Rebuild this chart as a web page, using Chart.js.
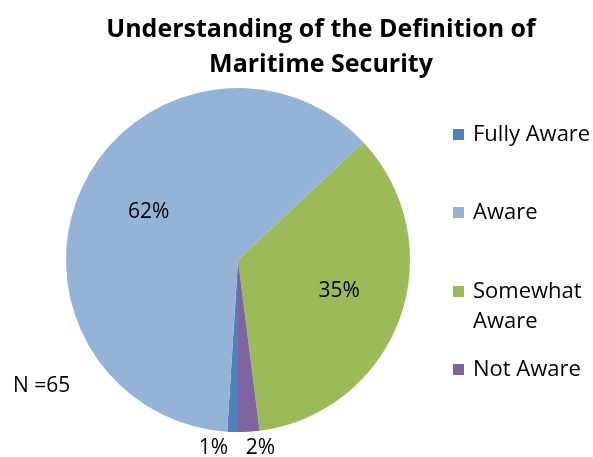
<!DOCTYPE html>
<html>
<head>
<meta charset="utf-8">
<script src="https://cdn.jsdelivr.net/npm/chart.js@4.4.1/dist/chart.umd.min.js"></script>
<style>
  html, body { margin: 0; padding: 0; background: #fff; }
  #wrap { width: 593px; height: 457px; }
</style>
</head>
<body>
<div id="wrap"><canvas id="grafico"></canvas></div>
<script>
// Datos de la encuesta
const categorias = ['Fully Aware', 'Aware', 'Somewhat Aware', 'Not Aware'];
const lineasLeyenda = [['Fully Aware'], ['Aware'], ['Somewhat', 'Aware'], ['Not Aware']];
const porcentajes = [1, 62, 35, 2];
const colores = ['#4F81BD', '#95B3D7', '#9BBB59', '#8064A2'];
const tituloLineas = ['Understanding of the Definition of', 'Maritime Security'];
const notaMuestra = 'N =65';

const fuente = '"Open Sans", Lato, sans-serif';

// Título en dos líneas, centrado sobre el gráfico y la leyenda
const tituloPlugin = {
    id: 'tituloPropio',
    afterDraw(chart) {
        const ctx = chart.ctx;
        ctx.save();
        ctx.fillStyle = '#000';
        ctx.font = 'bold 25px ' + fuente;
        ctx.textAlign = 'center';
        ctx.textBaseline = 'alphabetic';
        tituloLineas.forEach((linea, i) => {
            ctx.fillText(linea, 321, 37 + i * 35);
        });
        ctx.restore();
    }
};

// Etiquetas de porcentaje sobre cada porción
const etiquetasPlugin = {
    id: 'etiquetas',
    afterDatasetsDraw(chart) {
        const ctx = chart.ctx;
        const meta = chart.getDatasetMeta(0);
        ctx.save();
        ctx.fillStyle = '#000';
        ctx.font = '21px ' + fuente;
        ctx.textBaseline = 'middle';
        meta.data.forEach((arc, i) => {
            const p = arc.getProps(['x', 'y', 'startAngle', 'endAngle', 'outerRadius'], true);
            const medio = (p.startAngle + p.endAngle) / 2;
            const texto = porcentajes[i] + '%';
            if (porcentajes[i] >= 5) {
                const d = p.outerRadius * 0.6;
                ctx.textAlign = 'center';
                ctx.fillText(texto, p.x + Math.cos(medio) * d + 4, p.y + Math.sin(medio) * d - 4);
            } else {
                // porciones pequeñas: etiqueta fuera del círculo
                const d = p.outerRadius + 16;
                const x = p.x + Math.cos(medio) * d;
                const y = p.y + Math.sin(medio) * d;
                ctx.textAlign = x < p.x ? 'right' : 'left';
                ctx.fillText(texto, x - 4, y);
            }
        });
        ctx.restore();
    }
};

// Leyenda a la derecha y nota N
const leyendaPlugin = {
    id: 'leyenda',
    afterDraw(chart) {
        const ctx = chart.ctx;
        const posY = [135, 213, 292, 370];
        ctx.save();
        ctx.font = '22px ' + fuente;
        ctx.textBaseline = 'middle';
        ctx.textAlign = 'left';
        categorias.forEach((c, i) => {
            ctx.fillStyle = colores[i];
            ctx.fillRect(453, posY[i] - 6, 11, 11);
            ctx.fillStyle = '#000';
            lineasLeyenda[i].forEach((linea, j) => {
                ctx.fillText(linea, 473, posY[i] + j * 30);
            });
        });
        ctx.font = '21px ' + fuente;
        ctx.fillText(notaMuestra, 13, 386);
        ctx.restore();
    }
};

new Chart(document.getElementById('grafico'), {
    type: 'pie',
    data: {
        labels: categorias,
        datasets: [{
            data: porcentajes,
            backgroundColor: colores,
            borderWidth: 0
        }]
    },
    options: {
        responsive: true,
        maintainAspectRatio: false,
        animation: false,
        rotation: 180,
        layout: { padding: { left: 66, right: 183, top: 88, bottom: 25 } },
        plugins: {
            legend: { display: false },
            tooltip: { enabled: false },
            title: { display: false }
        }
    },
    plugins: [etiquetasPlugin, leyendaPlugin, tituloPlugin]
});
</script>
</body>
</html>
